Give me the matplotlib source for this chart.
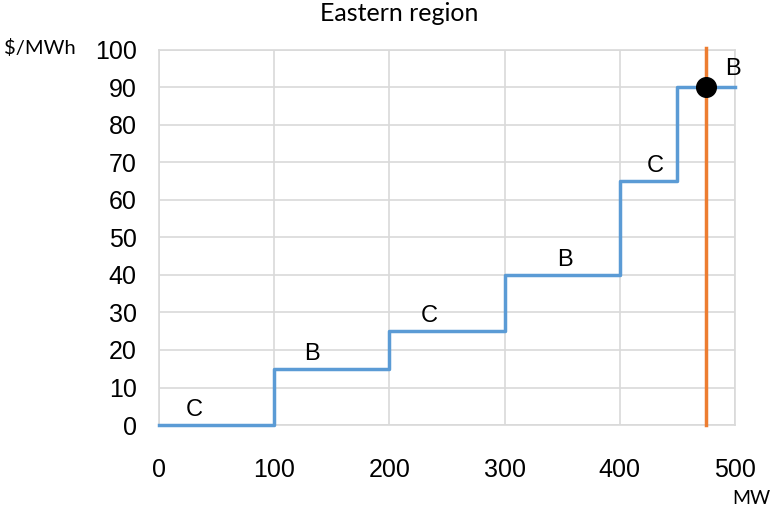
import matplotlib
matplotlib.use("Agg")
import matplotlib.pyplot as plt

# Supply curve data
step_x = [0, 100, 200, 300, 400, 450, 500]
step_y = [0, 15, 25, 40, 65, 90, 90]
seg_labels = ["C", "B", "C", "B", "C", "B"]
label_x = [31, 133, 235, 352, 431, 498]
label_y = [4, 19, 29, 44, 69, 95]
demand_x = 475
dot_x = [475]
dot_y = [90]
xticks = [0, 100, 200, 300, 400, 500]
yticks = [0, 10, 20, 30, 40, 50, 60, 70, 80, 90, 100]

fig = plt.figure(figsize=(7.72, 5.09), dpi=100)
ax = fig.add_axes([0.206, 0.165, 0.746, 0.737])

ax.step(step_x, step_y, where="post", color="#5B9BD5", lw=2.5, zorder=3, clip_on=False)
ax.axvline(demand_x, ymin=0, ymax=1.006, color="#ED7D31", lw=2.5, zorder=4, clip_on=False)
ax.scatter(dot_x, dot_y, s=200, color="black", zorder=5, clip_on=False)

for t, x, y in zip(seg_labels, label_x, label_y):
    ax.text(x, y, t, fontsize=17, family="Liberation Sans", ha="center", va="center", zorder=6)

ax.set_xlim(0, 500)
ax.set_ylim(0, 100)
ax.set_xticks(xticks)
ax.set_yticks(yticks)
ax.grid(True, color="#D9D9D9", lw=1.2)
ax.set_axisbelow(True)
for s in ax.spines.values():
    s.set_color("#D9D9D9")
    s.set_linewidth(1.2)
ax.tick_params(length=0, labelsize=18)
ax.tick_params(axis="x", pad=24)
ax.tick_params(axis="y", pad=16)
for lbl in ax.get_xticklabels() + ax.get_yticklabels():
    lbl.set_family("Liberation Sans")

fig.text(0.517, 0.974, "Eastern region", fontsize=18, family="Lato", ha="center", va="center")
fig.text(0.005, 0.905, "$/MWh", fontsize=14.5, family="Lato", ha="left", va="center")
fig.text(0.998, 0.02, "MW", fontsize=14, family="Lato", ha="right", va="center")

fig.savefig("out.png", dpi=100)
